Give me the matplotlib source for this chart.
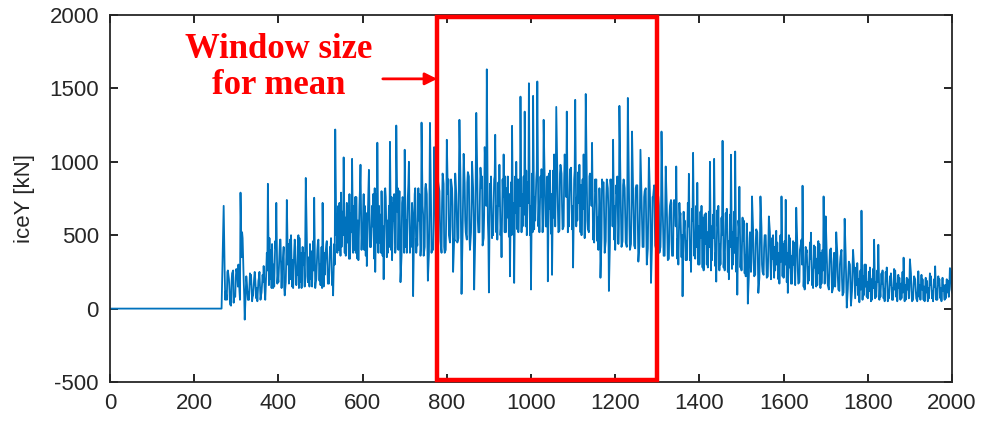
import numpy as np
import matplotlib
matplotlib.use("Agg")
import matplotlib.pyplot as plt
from matplotlib.patches import Rectangle

# Ice load in the y direction [kN]; zero until the ice reaches the structure
idle_time = [0, 265]
idle_load = [0, 0]

# samples on the 5 s grid
grid_time = np.arange(270, 2001, 5)
grid_load = [
    700, 120, 260, 30, 240, 90, 270, 300, 790, 480,
    -75, 180, 60, 230, 90, 200, 50, 250, 110, 290,
    150, 850, 200, 440, 150, 720, 180, 470, 300, 90,
    740, 170, 500, 140, 420, 230, 480, 140, 380, 890,
    180, 440, 150, 755, 200, 470, 160, 720, 230, 460,
    170, 480, 90, 1220, 380, 720, 420, 1030, 360, 700,
    340, 1020, 400, 760, 330, 980, 450, 700, 290, 945,
    420, 780, 250, 1130, 450, 800, 200, 760, 380, 1136,
    330, 780, 1247, 400, 180, 760, 1082, 380, 1000, 420,
    85, 820, 430, 780, 1267, 360, 850, 190, 1265, 420,
    1100, 330, 850, 460, 920, 380, 1150, 500, 880, 250,
    920, 450, 1286, 100, 1054, 520, 930, 400, 1000, 130,
    1333, 520, 960, 430, 1100, 1630, 110, 900, 500, 1184,
    470, 980, 350, 1050, 520, 900, 220, 1245, 175, 1000,
    520, 1444, 560, 1342, 500, 1535, 130, 1449, 600, 1547,
    520, 950, 1286, 560, 186, 940, 230, 1050, 1374, 520,
    980, 540, 1050, 1342, 560, 960, 280, 1422, 600, 980,
    500, 1050, 1462, 540, 920, 1129, 450, 880, 400, 210,
    850, 380, 880, 120, 830, 1150, 400, 900, 1381, 420,
    880, 450, 1435, 400, 1206, 430, 840, 320, 1082, 420,
    800, 300, 1027, 175, 760, 430, 800, 380, 1206, 360,
    968, 330, 700, 360, 740, 968, 300, 650, 84, 600,
    330, 918, 250, 1061, 340, 857, 300, 700, 260, 650,
    280, 1000, 330, 1020, 184, 700, 300, 1143, 260, 680,
    200, 1048, 300, 1070, 95, 830, 260, 600, 220, 34,
    520, 764, 220, 540, 107, 764, 250, 500, 210, 628,
    200, 500, 260, 450, 170, 764, 210, 741, 107, 480,
    170, 450, 687, 170, 420, 837, 130, 400, 190, 517,
    140, 420, 160, 440, 170, 764, 628, 160, 400, 110,
    380, 520, 130, 350, 90, 612, 7, 320, 20, 400,
    70, 310, 43, 667, 90, 300, 70, 280, 60, 469,
    80, 435, 80, 260, 50, 280, 70, 240, 60, 260,
    50, 210, 70, 347, 60, 200, 336, 50, 220, 70,
    254, 60, 200, 50, 190, 70, 220, 50, 288, 60,
    200, 50, 160, 70, 190, 276, 110,
]

# samples half-way between grid points
half_time = np.arange(272.5, 2000, 5)
half_load = [
    230, 60, 200, 20, 260, 80, 230, 120, 350, 200,
    130, 60, 240, 50, 210, 70, 190, 60, 230, 120,
    380, 160, 400, 140, 460, 170, 380, 140, 420, 180,
    300, 470, 150, 390, 160, 500, 180, 420, 150, 480,
    350, 200, 460, 140, 400, 190, 420, 150, 390, 170,
    420, 160, 440, 500, 700, 360, 660, 380, 720, 340,
    650, 380, 760, 340, 700, 400, 780, 360, 640, 420,
    700, 340, 780, 380, 640, 360, 800, 350, 700, 400,
    720, 380, 660, 800, 360, 700, 420, 760, 380, 720,
    600, 380, 820, 360, 700, 420, 780, 370, 720, 400,
    760, 420, 800, 380, 850, 400, 780, 450, 820, 470,
    780, 480, 880, 500, 850, 470, 900, 520, 820, 480,
    880, 520, 820, 480, 900, 600, 850, 480, 880, 520,
    860, 500, 880, 520, 820, 490, 860, 510, 900, 540,
    880, 520, 900, 560, 860, 500, 920, 540, 880, 560,
    900, 520, 880, 560, 920, 510, 940, 560, 900, 530,
    920, 560, 900, 520, 950, 540, 880, 560, 930, 520,
    880, 480, 900, 520, 850, 470, 880, 460, 820, 480,
    860, 460, 820, 450, 880, 470, 840, 440, 860, 460,
    820, 420, 850, 440, 800, 410, 840, 430, 780, 420,
    820, 410, 780, 440, 840, 400, 760, 420, 720, 360,
    700, 340, 740, 360, 680, 340, 720, 350, 660, 330,
    720, 330, 680, 360, 700, 300, 660, 280, 640, 300,
    660, 260, 640, 290, 670, 260, 620, 280, 650, 250,
    640, 270, 660, 250, 600, 280, 620, 240, 580, 220,
    250, 540, 230, 520, 210, 550, 230, 500, 220, 520,
    480, 210, 530, 200, 500, 220, 460, 180, 500, 170,
    460, 160, 440, 180, 470, 150, 420, 170, 450, 160,
    430, 150, 460, 140, 400, 170, 380, 130, 410, 140,
    150, 380, 120, 400, 110, 360, 130, 300, 120, 280,
    280, 90, 260, 60, 300, 80, 250, 50, 270, 70,
    260, 60, 240, 70, 250, 50, 220, 60, 270, 80,
    230, 60, 250, 50, 210, 70, 240, 60, 200, 50,
    80, 230, 60, 210, 50, 240, 70, 200, 60, 220,
    70, 210, 60, 200, 80, 250,
]

# extra samples between the half-way points and the next grid point
late_time = np.arange(273.75, 2000, 5)
late_load = [
    60, 250, 130, 180, 40, 210, 150, 60, 520, 90,
    220, 110, 170, 80, 250, 140, 210, 90, 180, 60,
    260, 480, 140, 300, 410, 220, 470, 260, 150, 350,
    440, 200, 330, 470, 250, 140, 380, 300, 460, 220,
    150, 390, 260, 180, 450, 300, 140, 380, 440, 210,
    380, 200, 300, 640, 400, 790, 500, 620, 450, 780,
    520, 700, 380, 600, 820, 520, 400, 650, 800, 480,
    560, 820, 450, 700, 380, 560, 820, 600, 420, 760,
    600, 420, 820, 560, 720, 380, 600, 850, 520, 640,
    780, 480, 600, 420, 640, 820, 500, 700, 380, 600,
    540, 880, 600, 720, 420, 650, 880, 560, 700, 460,
    650, 900, 540, 760, 600, 860, 500, 720, 620, 880,
    600, 780, 900, 640, 700, 480, 760, 620, 900, 700,
    700, 560, 760, 900, 620, 780, 500, 720, 650, 880,
    700, 780, 640, 940, 720, 700, 520, 760, 940, 700,
    760, 600, 720, 900, 680, 780, 620, 800, 700, 920,
    700, 880, 760, 660, 820, 700, 940, 760, 720, 840,
    680, 820, 600, 900, 700, 560, 800, 620, 720, 880,
    600, 760, 680, 880, 560, 700, 780, 560, 660, 840,
    620, 780, 560, 700, 640, 820, 560, 680, 600, 760,
    580, 700, 560, 760, 620, 540, 700, 600, 560, 640,
    520, 620, 460, 720, 560, 480, 620, 500, 540, 460,
    560, 440, 600, 500, 420, 560, 480, 620, 440, 520,
    420, 560, 480, 380, 560, 440, 500, 380, 560, 460,
    420, 520, 380, 480, 560, 400, 460, 360, 480, 400,
    400, 320, 440, 360, 460, 300, 420, 360, 440, 320,
    340, 420, 300, 380, 320, 440, 300, 380, 280, 360,
    300, 360, 260, 400, 300, 240, 380, 280, 340, 260,
    280, 340, 240, 380, 260, 320, 240, 300, 260, 320,
    260, 220, 300, 200, 280, 180, 240, 160, 280, 180,
    160, 200, 130, 220, 150, 180, 120, 200, 140, 180,
    180, 140, 170, 130, 190, 120, 160, 140, 130, 170,
    140, 170, 110, 160, 130, 150, 120, 160, 140, 120,
    160, 130, 150, 110, 140, 160, 120, 150, 130, 170,
    140, 120, 160, 110, 150, 130,
]

x_ticks = list(range(0, 2001, 200))
y_ticks = [-500, 0, 500, 1000, 1500, 2000]

# averaging window highlighted on the record
window_start, window_end = 777, 1299

# merge all sample sets in time order
time = np.concatenate([idle_time, grid_time, half_time, late_time])
load = np.concatenate([idle_load, grid_load, half_load, late_load])
order = np.argsort(time, kind="stable")
time, load = time[order], load[order]

plt.rcParams["font.family"] = ["Liberation Sans", "DejaVu Sans"]
plt.rcParams["axes.unicode_minus"] = False

fig = plt.figure(figsize=(9.83, 4.25), dpi=100)
ax = fig.add_axes([110 / 983, 43 / 425, 842 / 983, 367 / 425])

ax.plot(time, load, color="#0072BD", linewidth=1.3)

ax.set_xlim(0, 2000)
ax.set_ylim(-500, 2000)
ax.set_xticks(x_ticks)
ax.set_yticks(y_ticks)
ax.tick_params(direction="in", top=True, right=True, length=6, width=1.2,
               labelsize=16, labelcolor="#262626", pad=8)
for side in ax.spines.values():
    side.set_linewidth(1.3)
    side.set_color("#262626")
ax.set_ylabel("iceY [kN]", fontsize=16, color="#262626", labelpad=10)

ax.add_patch(Rectangle((window_start, -485), window_end - window_start, 2470,
                       fill=False, edgecolor="#FF0000", linewidth=3.2,
                       clip_on=False, zorder=5))

ax.text(401, 1643, "Window size\nfor mean", color="#FF0000",
        family=["Liberation Serif", "DejaVu Serif"], fontweight="bold",
        fontsize=25, ha="center", va="center", linespacing=1.15)
ax.annotate("", xy=(window_start, 1565), xytext=(648, 1565),
            arrowprops=dict(arrowstyle="-|>", color="#FF0000", lw=2,
                            mutation_scale=18, shrinkA=0, shrinkB=0))

fig.savefig("out.png", dpi=100)
